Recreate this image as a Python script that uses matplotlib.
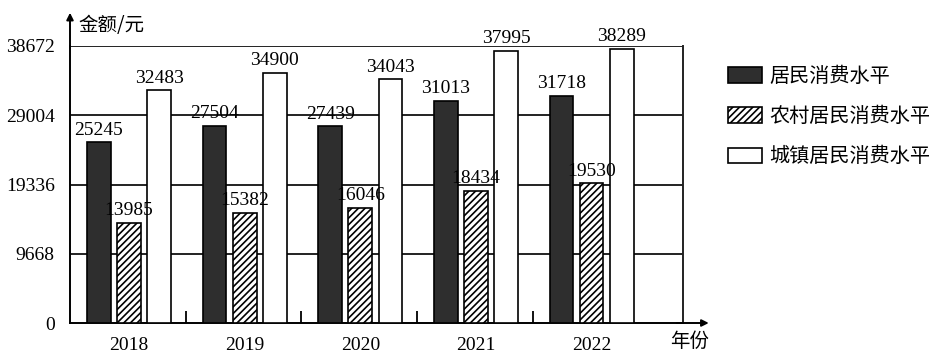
import numpy as np
import matplotlib
matplotlib.use("Agg")
import matplotlib.pyplot as plt
from matplotlib.ticker import FixedLocator

plt.rcParams['font.family'] = ['Liberation Serif', 'Noto Sans CJK SC']
plt.rcParams['hatch.linewidth'] = 1.2

# data
years = ['2018', '2019', '2020', '2021', '2022']
resident = [25245, 27504, 27439, 31013, 31718]
rural = [13985, 15382, 16046, 18434, 19530]
urban = [32483, 34900, 34043, 37995, 38289]
yticks = [0, 9668, 19336, 29004, 38672]

W, H = 930, 353
fig = plt.figure(figsize=(W / 100, H / 100), dpi=100)
ax = fig.add_axes([70 / W, 1 - 323 / H, (683 - 70) / W, (323 - 46) / H])

x = np.arange(len(years))
bw = 0.205
step = 0.26

b1 = ax.bar(x - step, resident, bw, color='#2e2e2e', edgecolor='black', lw=1.2, zorder=3)
b2 = ax.bar(x, rural, bw, color='white', edgecolor='black', hatch='/////', lw=1.2, zorder=3)
b3 = ax.bar(x + step, urban, bw, color='white', edgecolor='black', lw=1.2, zorder=3)

for bars, vals in ((b1, resident), (b2, rural), (b3, urban)):
    for b, v in zip(bars, vals):
        ax.text(b.get_x() + b.get_width() / 2, v + 500, str(v),
                ha='center', va='bottom', fontsize=14, zorder=4)

ax.set_xlim(-0.51, 4.79)
ax.set_ylim(0, 38672)

# gridlines
for t in yticks[1:]:
    ax.axhline(t, color='#222222', lw=1.4, zorder=1)
ax.axvline(4.79, color='#222222', lw=1.4, zorder=1, clip_on=False)

ax.set_yticks(yticks)
ax.set_yticklabels([str(t) for t in yticks], fontsize=14)
ax.tick_params(axis='y', length=0, pad=11)

ax.set_xticks(x)
ax.set_xticklabels(years, fontsize=14)
ax.xaxis.set_minor_locator(FixedLocator(x[:-1] + 0.49))
ax.tick_params(axis='x', which='major', length=0, pad=10)
ax.tick_params(axis='x', which='minor', direction='in', length=9, width=1.3)

for s in ['top', 'right']:
    ax.spines[s].set_visible(False)
for s in ['left', 'bottom']:
    ax.spines[s].set_linewidth(1.4)

# axis arrows
ax.annotate('', xy=(0, 1.12), xytext=(0, 0.99), xycoords='axes fraction',
            arrowprops=dict(arrowstyle='-|>', color='black', lw=1.4,
                            mutation_scale=10, shrinkA=0, shrinkB=0))
ax.annotate('', xy=(1.042, 0), xytext=(0.99, 0), xycoords='axes fraction',
            arrowprops=dict(arrowstyle='-|>', color='black', lw=1.4,
                            mutation_scale=10, shrinkA=0, shrinkB=0))

fig.text(78 / W, 1 - 25 / H, '金额/元', fontsize=14, ha='left', va='center',
         family=['Noto Sans CJK SC'])
fig.text(670 / W, 1 - 341 / H, '年份', fontsize=14, ha='left', va='center',
         family=['Noto Sans CJK SC'])

leg = fig.legend([b1, b2, b3], ['居民消费水平', '农村居民消费水平', '城镇居民消费水平'],
                 loc='upper left', bbox_to_anchor=(728 / W, 1 - 66 / H),
                 frameon=False, handlelength=1.7, handleheight=0.8,
                 handletextpad=0.35, labelspacing=0.95, borderpad=0, borderaxespad=0,
                 prop={'family': ['Noto Sans CJK SC'], 'size': 14.5})

fig.savefig('out.png', dpi=100)
